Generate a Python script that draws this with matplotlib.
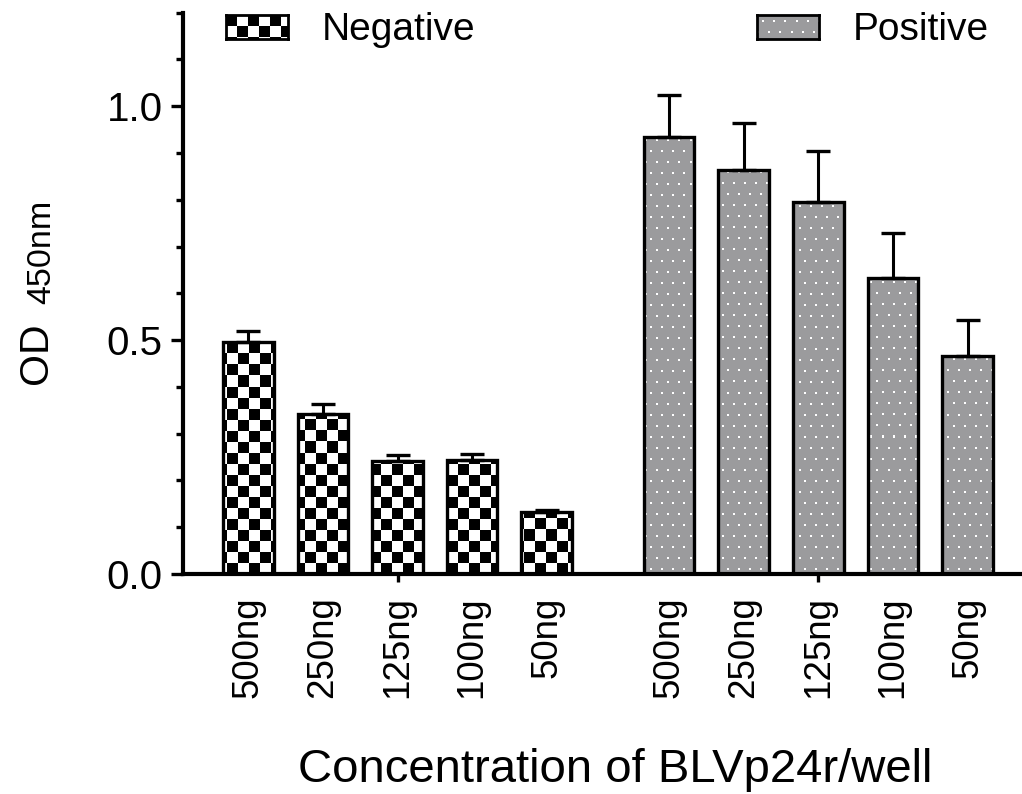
# OD450 of BLVp24r-coated wells, negative vs positive sera

import numpy as np
import matplotlib
matplotlib.use("Agg")
import matplotlib.pyplot as plt
from matplotlib.ticker import MultipleLocator, FixedLocator

plt.rcParams["font.family"] = ["Liberation Sans", "DejaVu Sans"]

# --------------------------------------------------------------------
# Data
# --------------------------------------------------------------------
doses = ["500ng", "250ng", "125ng", "100ng", "50ng"]
neg_mean = [0.495, 0.343, 0.241, 0.243, 0.133]
neg_err = [0.025, 0.020, 0.013, 0.013, 0.004]
pos_mean = [0.934, 0.864, 0.795, 0.633, 0.467]
pos_err = [0.091, 0.100, 0.109, 0.096, 0.075]

GRAY = np.array([0x9b, 0x9b, 0x9d]) / 255.0
W_PX, H_PX = 1022, 794


def make_texture(kind, h, w, cell=11):
    r, c = np.indices((h, w))
    if kind == "checker":
        v = ((r // cell) + (c // cell)) % 2
        return np.repeat(v[..., None].astype(float), 3, axis=2)
    img = np.ones((h, w, 3)) * GRAY
    shift = ((r // cell) % 2) * (cell // 2)
    dy = (r % cell) - cell / 2
    dx = ((c + shift) % cell) - cell / 2
    img[dx ** 2 + dy ** 2 <= 2.3] = 1.0
    return img


def fpx(x0, y0, x1, y1):
    """pixel box (top-left origin) -> figure fraction rect"""
    return [x0 / W_PX, 1 - y1 / H_PX, (x1 - x0) / W_PX, (y1 - y0) / H_PX]


fig = plt.figure(figsize=(W_PX / 100, H_PX / 100), dpi=100)
ax = fig.add_axes(fpx(183, 12.7, 1022, 574))

neg_x = np.arange(len(doses))
pos_x = np.arange(len(doses)) + 5.64
xlim = (-0.875, 10.37)
ylim = (0, 1.2)

ax_h, ax_w = int(574 - 12.7), 1022 - 183
textures = {"checker": make_texture("checker", ax_h, ax_w),
            "dots": make_texture("dots", ax_h, ax_w)}

for xs, means, errs, kind in [(neg_x, neg_mean, neg_err, "checker"),
                              (pos_x, pos_mean, pos_err, "dots")]:
    bars = ax.bar(xs, means, width=0.68, facecolor="none",
                  edgecolor="black", linewidth=2.4, zorder=3)
    for patch in bars.patches:
        im = ax.imshow(textures[kind], extent=(*xlim, *ylim), aspect="auto",
                       interpolation="nearest", origin="upper", zorder=2)
        im.set_clip_path(patch)
    ax.errorbar(xs, means, yerr=[np.zeros(len(errs)), errs], fmt="none",
                ecolor="black", elinewidth=2.2, capsize=8.5, capthick=2.4,
                zorder=4)

ax.set_xlim(*xlim)
ax.set_ylim(*ylim)

# axes styling
for side in ["top", "right"]:
    ax.spines[side].set_visible(False)
for side in ["left", "bottom"]:
    ax.spines[side].set_linewidth(3)

ax.set_yticks([0, 0.5, 1.0])
ax.set_yticklabels(["0.0", "0.5", "1.0"])
ax.yaxis.set_minor_locator(MultipleLocator(0.1))
ax.tick_params(axis="y", which="major", length=8.5, width=2.4,
               labelsize=29, pad=6)
ax.tick_params(axis="y", which="minor", length=5, width=2.4)

# group ticks (major, no label) and per-bar labels (minor, no tick mark)
ax.xaxis.remove_overlapping_locs = False
ax.xaxis.set_major_locator(FixedLocator([neg_x.mean(), pos_x.mean()]))
ax.set_xticklabels(["", ""])
ax.xaxis.set_minor_locator(FixedLocator(list(neg_x) + list(pos_x)))
ax.set_xticklabels(doses + doses, minor=True, rotation=90, va="top")
ax.tick_params(axis="x", which="major", length=6, width=2.4)
ax.tick_params(axis="x", which="minor", length=0, labelsize=26.5, pad=16)

# axis titles
fig.text(615 / W_PX, 1 - 782 / H_PX, "Concentration of BLVp24r/well",
         fontsize=34, ha="center", va="baseline")
fig.text(36 / W_PX, 1 - 353 / H_PX, "OD", fontsize=29.5, rotation=90,
         ha="center", va="center")
fig.text(41.5 / W_PX, 1 - 251.5 / H_PX, "450nm", fontsize=24.5, rotation=90,
         ha="center", va="center")

# legend swatches
for box, kind, label, tx in [((226, 15, 288, 39), "checker", "Negative", 322),
                             ((757, 15, 819, 39), "dots", "Positive", 853)]:
    sw = fig.add_axes(fpx(*box))
    h, w = box[3] - box[1], box[2] - box[0]
    sw.imshow(make_texture(kind, h, w), aspect="auto", interpolation="nearest")
    sw.set_xticks([])
    sw.set_yticks([])
    for s in sw.spines.values():
        s.set_linewidth(2)
    fig.text(tx / W_PX, 1 - 39.5 / H_PX, label, fontsize=28, ha="left",
             va="baseline")

fig.savefig("out.png", dpi=100)
